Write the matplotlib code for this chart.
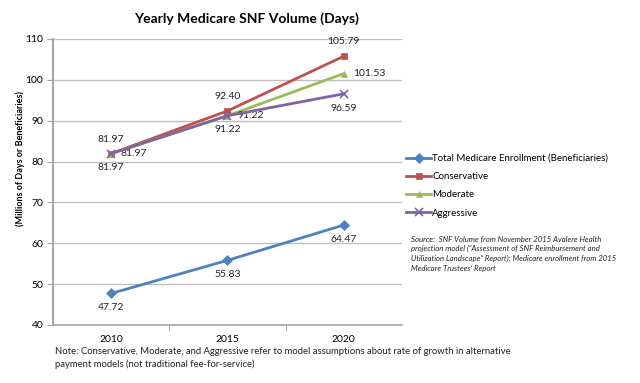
import matplotlib
matplotlib.use("Agg")
import matplotlib.pyplot as plt

plt.rcParams['font.family'] = ['Lato', 'DejaVu Sans']

years = ["2010", "2015", "2020"]
enrollment = [47.72, 55.83, 64.47]
conservative = [81.97, 92.40, 105.79]
moderate = [81.97, 91.22, 101.53]
aggressive = [81.97, 91.22, 96.59]

series = [
    ("Total Medicare Enrollment (Beneficiaries)", enrollment, "#4F81BD", "D", "below"),
    ("Conservative", conservative, "#C0504D", "s", "above"),
    ("Moderate", moderate, "#9BBB59", "^", "right"),
    ("Aggressive", aggressive, "#8064A2", "x", "below"),
]

fig = plt.figure(figsize=(6.4, 3.83), dpi=100)
ax = fig.add_axes([53/640, 1-325/383, (402-53)/640, (325-39)/383])

x = list(range(len(years)))
handles = []
for name, vals, col, mk, pos in series:
    ms = 5 if mk != "x" else 6
    h, = ax.plot(x, vals, color=col, lw=2, marker=mk, ms=ms,
                 mew=1.2 if mk == "x" else 0.5, mec=col, mfc=col, label=name, zorder=3)
    handles.append(h)
    for xi, v in zip(x, vals):
        if pos == "above":
            off, ha, va = (0, 7), "center", "bottom"
        elif pos == "below":
            off, ha, va = (0, -7), "center", "top"
        else:
            off, ha, va = (7, 0), "left", "center"
        ax.annotate(f"{v:.2f}", (xi, v), xytext=off, textcoords="offset points",
                    ha=ha, va=va, fontsize=7.5, color="#222222")

ax.set_xlim(-0.5, 2.5)
ax.set_ylim(40, 110)
ax.set_yticks(range(40, 111, 10))
ax.set_xticks(x)
ax.set_xticklabels(years, fontsize=7.5)
ax.set_xticks([0.5, 1.5], minor=True)
ax.tick_params(axis='x', which='major', length=0, pad=7)
ax.tick_params(axis='x', which='minor', length=4, color="#A6A6A6", direction='out')
ax.tick_params(axis='y', length=4, color="#A6A6A6", labelsize=7.5, pad=3)
ax.grid(axis='y', color="#BFBFBF", lw=1)
ax.set_axisbelow(True)
for s in ["top", "right"]:
    ax.spines[s].set_visible(False)
ax.spines["left"].set_color("#A6A6A6")
ax.spines["bottom"].set_color("#A6A6A6")
ax.spines["left"].set_linewidth(1.5)
ax.spines["bottom"].set_linewidth(1.2)

fig.text(246/640, 1-19/383, "Yearly Medicare SNF Volume (Days)", ha="center", va="center",
         fontsize=10, fontweight="bold")
fig.text(20/640, 1-158/383, "(Millions of Days or Beneficiaries)", rotation=90,
         ha="center", va="center", fontsize=6.5, fontweight="bold")

leg = fig.legend(handles=handles, loc="upper left", bbox_to_anchor=(406/640, 1-154/383),
                 frameon=False, fontsize=7, handlelength=2.6, handletextpad=0.1,
                 labelspacing=0.95, borderpad=0, borderaxespad=0)

fig.text(411/640, 1-235/383,
         "Source:  SNF Volume from November 2015 Avalere Health\n"
         "projection model (\u201cAssessment of SNF Reimbursement and\n"
         "Utilization Landscape\u201d Report); Medicare enrollment from 2015\n"
         "Medicare Trustees\u2019 Report",
         ha="left", va="top", fontsize=5.6, style="italic", linespacing=1.5, color="#222222")

fig.text(55/640, 1-358/383,
         "Note: Conservative, Moderate, and Aggressive refer to model assumptions about rate of growth in alternative\n"
         "payment models (not traditional fee-for-service)",
         ha="left", va="center", fontsize=6.8, linespacing=1.35, color="#222222")

fig.savefig("out.png", dpi=100)
